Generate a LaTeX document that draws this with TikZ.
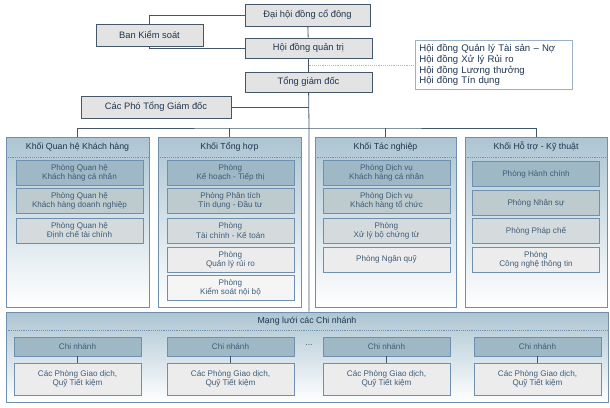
\documentclass[tikz,border=0pt]{standalone}
\usepackage{fontspec}
\setmainfont{Liberation Sans}
\definecolor{ink}{HTML}{1F3550}
\definecolor{txt}{HTML}{3F5C78}
\definecolor{edge}{HTML}{6E8FAE}
\definecolor{lnk}{HTML}{44566A}
\tikzset{
top/.style = {draw=lnk, fill=gray!22, rectangle, text=ink, font=\fontsize{7}{8}\selectfont},
committee/.style = {draw=edge!70, fill=white, rectangle, text=ink, align=left, text width=112pt, inner sep=3pt, font=\fontsize{7.2}{8}\selectfont},
column/.style = {draw=edge, top color=blue!35!cyan!30!gray!50, bottom color=white, rectangle, minimum width=107pt, minimum height=127.5pt},
head/.style = {text=ink, font=\fontsize{6.6}{7.5}\selectfont},
dept/.style = {draw=edge, rectangle, minimum width=95.25pt, minimum height=18.75pt, align=center, text=txt, inner sep=0.5pt, font=\fontsize{6.1}{6.9}\selectfont},
d1/.style = {dept, fill=blue!35!cyan!25!gray!60},
d2/.style = {dept, fill=blue!25!cyan!15!gray!45},
d3/.style = {dept, fill=blue!15!cyan!10!gray!30},
d4/.style = {dept, fill=gray!15},
d5/.style = {dept, fill=gray!8},
link/.style = {draw=lnk, semithick},
}
\begin{document}
\begin{tikzpicture}[x=0.75pt,y=-0.75pt]
    \useasboundingbox (0,0) rectangle (610,407);
    % management
    \node [top, minimum width=93.75pt, minimum height=16.5pt] (dh) at (307.5,15) {Đại hội đồng cổ đông};
    \node [top, minimum width=80.25pt, minimum height=16.5pt] (bks) at (149.5,35) {Ban Kiểm soát};
    \node [top, minimum width=95.25pt, minimum height=15pt] (hdqt) at (308.5,48) {Hội đồng quản trị};
    \node [top, minimum width=95.25pt, minimum height=15pt] (tgd) at (308.5,82) {Tổng giám đốc};
    \node [top, minimum width=112.5pt, minimum height=16.5pt] (pho) at (156,107) {Các Phó Tổng Giám đốc};
    \node [committee, minimum height=34.5pt] (hd) at (494,65) {Hội đồng Quản lý Tài sản -- Nợ\\Hội đồng Xử lý Rủi ro\\Hội đồng Lương thưởng\\Hội đồng Tín dụng};

    % the four blocks
    \node [column] (c1) at (77.5,222) {};
    \node [column] (c2) at (229.5,222) {};
    \node [column, minimum width=105.75pt] (c3) at (385.5,222) {};
    \node [column, minimum width=106.5pt] (c4) at (536,222) {};
    \foreach \c in {c1,c2,c3,c4}
        \draw [edge, densely dotted] (\c.west |- 0,157) -- (\c.east |- 0,157);
    \node [head] at (77.5,147) {Khối Quan hệ Khách hàng};
    \node [head] at (229.5,147) {Khối Tổng hợp};
    \node [head] at (385.5,147) {Khối Tác nghiệp};
    \node [head] at (536,147) {Khối Hỗ trợ - Kỹ thuật};

    \node [d1] (q1) at (79.5,172.5) {Phòng Quan hệ\\Khách hàng cá nhân};
    \node [d2] (q2) at (79.5,200.5) {Phòng Quan hệ\\Khách hàng doanh nghiệp};
    \node [d3] (q3) at (79.5,230.5) {Phòng Quan hệ\\Định chế tài chính};

    \node [d1] (t1) at (230.5,172.5) {Phòng\\Kế hoạch - Tiếp thị};
    \node [d2] (t2) at (230.5,200.5) {Phòng Phân tích\\Tín dụng - Đầu tư};
    \node [d3] (t3) at (230.5,230.5) {Phòng\\Tài chính - Kế toán};
    \node [d4] (t4) at (230.5,259.5) {Phòng\\Quản lý rủi ro};
    \node [d5] (t5) at (230.5,288) {Phòng\\Kiểm soát nội bộ};

    \node [d1] (n1) at (386.5,172.5) {Phòng Dịch vụ\\Khách hàng cá nhân};
    \node [d2] (n2) at (386.5,200.5) {Phòng Dịch vụ\\Khách hàng tổ chức};
    \node [d3] (n3) at (386.5,230.5) {Phòng\\Xử lý bộ chứng từ};
    \node [d4] (n4) at (386.5,259.5) {Phòng Ngân quỹ};

    \node [d1] (k1) at (536,174) {Phòng Hành chính};
    \node [d2] (k2) at (536,203) {Phòng Nhân sự};
    \node [d3] (k3) at (536,231) {Phòng Pháp chế};
    \node [d4] (k4) at (536,260) {Phòng\\Công nghệ thông tin};

    % branch network
    \node [column, minimum width=451.5pt, minimum height=67.5pt] (ml) at (307,357) {};
    \draw [edge, densely dotted] (ml.west |- 0,330) -- (ml.east |- 0,330);
    \node [head] at (307,321) {Mạng lưới các Chi nhánh};
    \foreach \x [count=\i] in {77.5,230.5,386.5,537.5} {
        \node [d1, minimum height=14.25pt] (cn\i) at (\x,346.5) {Chi nhánh};
        \node [d4, minimum height=24pt] (gd\i) at (\x,379) {Các Phòng Giao dịch,\\Quỹ Tiết kiệm};
        \draw [lnk] (cn\i) -- (gd\i);
    }
    \node [head, text=txt] (dots) at (309,345) {...};

    % connectors
    \coordinate (bar) at (309,128);
    \draw [link] (dh) -| (bks);
    \draw [link] (bks) |- (hdqt);
    \draw [link] (dh) -- (hdqt);
    \draw [link] (hdqt) -- (tgd);
    \draw [edge!60, densely dotted] (hdqt.south |- hd.west) -- (hd.west);
    \draw [link] (tgd) -- (bar) -- (bar |- ml.north);
    \draw [link] (pho) -- (pho -| bar);
    \draw [link] (c1.north) |- (bar) -| (c4.north);
    \draw [link] (c2.north) -- (c2.north |- bar);
    \draw [link] (c3.north) -- (c3.north |- bar);
\end{tikzpicture}
\end{document}
